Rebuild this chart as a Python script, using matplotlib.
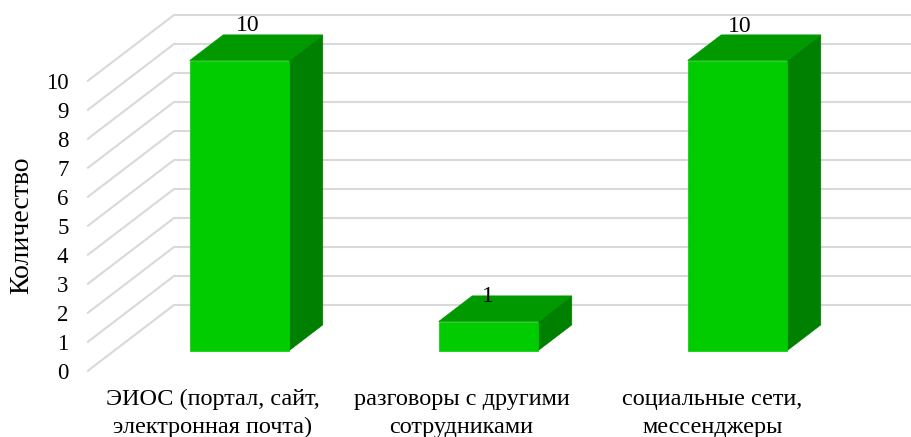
import matplotlib
matplotlib.use('Agg')
import matplotlib.pyplot as plt
from matplotlib.patches import Polygon

plt.rcParams['font.family'] = ['Liberation Serif', 'DejaVu Serif']

categorias = ['ЭИОС (портал, сайт,\nэлектронная почта)',
              'разговоры с другими\nсотрудниками',
              'социальные сети,\nмессенджеры']
valores = [10, 1, 10]
ticks_y = list(range(0, 11))
# posicao do rotulo acima do topo da barra, em px (dx, dy)
rotulo_px = [(8, 38), (-0.5, 27), (2, 37)]
# deslocamento horizontal do nome da categoria, em px
categoria_px = [-27, -27, -25]

# escala: 249 px por categoria, 29 px por unidade
PX_X = 249.0
PX_Y = 29.0
X0 = 239.5    # centro da primeira barra, px
Y0 = 350.5    # base das barras, px

fig = plt.figure(figsize=(9.12, 4.37), dpi=100)
ax = fig.add_axes([0, 0, 1, 1])
ax.set_xlim((0 - X0) / PX_X, (912 - X0) / PX_X)
ax.set_ylim((Y0 - 437) / PX_Y, (Y0 - 0) / PX_Y)
ax.axis('off')

# deslocamentos da projecao obliqua, em unidades de dados
largura = 99.5 / PX_X
prof_x = 33.5 / PX_X
prof_y = 25.6 / PX_Y

# parede e grade
gx_frente = (88 - X0) / PX_X
gx_fundo = (174 - X0) / PX_X
gx_fim = (912 - X0) / PX_X
g_frente = (Y0 - 370.7) / PX_Y
g_fundo = (Y0 - 305.0) / PX_Y

for v in ticks_y:
    ax.plot([gx_frente, gx_fundo, gx_fim],
            [g_frente + v, g_fundo + v, g_fundo + v],
            color='#D9D9D9', linewidth=1.5, solid_joinstyle='miter', zorder=1)
    ax.text((68.5 - X0) / PX_X, g_frente + v, str(v), ha='right', va='center_baseline',
            fontsize=16.5, color='#000000')

# barras 3D
for i, v in enumerate(valores):
    e = i - largura / 2
    d = i + largura / 2
    ax.add_patch(Polygon([(d, 0), (d + prof_x, prof_y), (d + prof_x, v + prof_y), (d, v)],
                         facecolor='#008000', edgecolor='#008000', linewidth=0.5, zorder=2))
    ax.add_patch(Polygon([(e, v), (d, v), (d + prof_x, v + prof_y), (e + prof_x, v + prof_y)],
                         facecolor='#009900', edgecolor='#009900', linewidth=0.5, zorder=2))
    ax.add_patch(Polygon([(e, 0), (d, 0), (d, v), (e, v)],
                         facecolor='#00CC00', edgecolor='#00CC00', linewidth=0.5, zorder=3))

    dx, dy = rotulo_px[i]
    ax.text(i + dx / PX_X, v + dy / PX_Y, str(v), ha='center', va='center_baseline',
            fontsize=17, color='#000000', zorder=4)

    ax.text(i + categoria_px[i] / PX_X, (Y0 - 413.5) / PX_Y, categorias[i], ha='center', va='center',
            fontsize=17.5, linespacing=1.42, color='#000000')

ax.text((21.5 - X0) / PX_X, (Y0 - 225) / PX_Y, 'Количество', rotation=90,
        ha='center', va='center', fontsize=20, color='#000000')

fig.savefig('out.png', dpi=100)
